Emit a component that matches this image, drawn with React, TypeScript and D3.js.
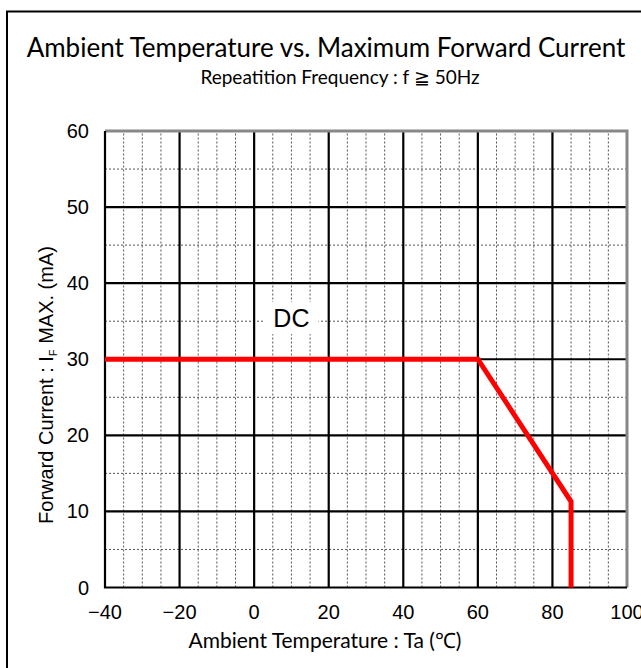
import React, { useRef, useEffect } from 'react';
import * as d3 from 'd3';

// derating curve: ambient temperature (°C) vs max forward current (mA)
const temps = [-40, 60, 85, 85];
const currents = [30, 30, 11.3, 0];

const xTicks = [-40, -20, 0, 20, 40, 60, 80, 100];
const yTicks = [0, 10, 20, 30, 40, 50, 60];
const xMinor = d3.range(-40, 101, 5);
const yMinor = d3.range(0, 61, 5);

const title = 'Ambient Temperature vs. Maximum Forward Current';
const subtitle = 'Repeatition Frequency : f ≧ 50Hz';
const xTitle = 'Ambient Temperature : Ta (℃)';

const W = 641;
const H = 668;
const margin = { top: 131, right: 14, bottom: 80.5, left: 105 };

const App: React.FC = () => {
    const ref = useRef<SVGSVGElement | null>(null);

    useEffect(() => {
        const svg = d3.select(ref.current);
        svg.selectAll('*').remove();

        const x = d3.scaleLinear().domain([-40, 100]).range([margin.left, W - margin.right]);
        const y = d3.scaleLinear().domain([0, 60]).range([H - margin.bottom, margin.top]);

        // outer frame (runs off the right and bottom edges)
        svg.append('path')
            .attr('d', `M7,${H + 5} V11.5 H${W + 5}`)
            .attr('fill', 'none')
            .attr('stroke', '#000')
            .attr('stroke-width', 2);

        svg.append('text')
            .attr('x', 326).attr('y', 57)
            .attr('text-anchor', 'middle')
            .style('font-family', 'Lato, sans-serif')
            .style('font-size', '26px')
            .text(title);

        svg.append('text')
            .attr('x', 340).attr('y', 84)
            .attr('text-anchor', 'middle')
            .style('font-family', 'Lato, sans-serif')
            .style('font-size', '19px')
            .text(subtitle);

        const g = svg.append('g');

        // minor dashed grid
        g.selectAll('line.mx')
            .data(xMinor.filter((d) => d % 20 !== 0))
            .enter().append('line')
            .attr('x1', (d) => x(d)).attr('x2', (d) => x(d))
            .attr('y1', y(0)).attr('y2', y(60))
            .attr('stroke', '#555').attr('stroke-width', 1).attr('stroke-dasharray', '2,2');
        g.selectAll('line.my')
            .data(yMinor.filter((d) => d % 10 !== 0))
            .enter().append('line')
            .attr('y1', (d) => y(d)).attr('y2', (d) => y(d))
            .attr('x1', x(-40)).attr('x2', x(100))
            .attr('stroke', '#555').attr('stroke-width', 1).attr('stroke-dasharray', '2,2');

        // major grid
        g.selectAll('line.Mx')
            .data(xTicks.slice(1, -1))
            .enter().append('line')
            .attr('x1', (d) => x(d)).attr('x2', (d) => x(d))
            .attr('y1', y(0)).attr('y2', y(60))
            .attr('stroke', '#000').attr('stroke-width', 2.2);
        g.selectAll('line.My')
            .data(yTicks.slice(1, -1))
            .enter().append('line')
            .attr('y1', (d) => y(d)).attr('y2', (d) => y(d))
            .attr('x1', x(-40)).attr('x2', x(100))
            .attr('stroke', '#000').attr('stroke-width', 2.2);

        // plot border: grey top/right, black left/bottom
        g.append('path')
            .attr('d', `M${x(-40)},${y(60)} H${x(100)} V${y(0)}`)
            .attr('fill', 'none').attr('stroke', '#888').attr('stroke-width', 3);
        g.append('path')
            .attr('d', `M${x(-40)},${y(60)} V${y(0)} H${x(100)}`)
            .attr('fill', 'none').attr('stroke', '#000').attr('stroke-width', 2.2);

        // DC label with white box
        const dcx = x(10);
        const dcy = y(35.4);
        g.append('rect')
            .attr('x', dcx - 27).attr('y', dcy - 16)
            .attr('width', 54).attr('height', 32)
            .attr('fill', '#fff');
        g.append('text')
            .attr('x', dcx).attr('y', dcy)
            .attr('dy', '0.35em')
            .attr('text-anchor', 'middle')
            .style('font-family', 'Liberation Sans, Arial, sans-serif')
            .style('font-size', '25px')
            .text('DC');

        // curve
        const line = d3.line<number>()
            .x((_, i) => x(temps[i]))
            .y((d) => y(d));
        g.append('path')
            .datum(currents)
            .attr('d', line)
            .attr('fill', 'none')
            .attr('stroke', '#ff0000')
            .attr('stroke-width', 5)
            .attr('stroke-linejoin', 'miter');

        // tick labels
        g.selectAll('text.xt')
            .data(xTicks)
            .enter().append('text')
            .attr('x', (d) => x(d)).attr('y', y(0) + 24)
            .attr('dy', '0.35em')
            .attr('text-anchor', 'middle')
            .style('font-family', 'Liberation Sans, Arial, sans-serif')
            .style('font-size', '20px')
            .text((d) => (d < 0 ? '−' + Math.abs(d) : String(d)));
        g.selectAll('text.yt')
            .data(yTicks)
            .enter().append('text')
            .attr('x', x(-40) - 16).attr('y', (d) => y(d))
            .attr('dy', '0.35em')
            .attr('text-anchor', 'end')
            .style('font-family', 'Liberation Sans, Arial, sans-serif')
            .style('font-size', '20px')
            .text((d) => String(d));

        // axis titles
        svg.append('text')
            .attr('x', 325).attr('y', 648)
            .attr('text-anchor', 'middle')
            .style('font-family', 'Lato, sans-serif')
            .style('font-size', '21px')
            .text(xTitle);

        const yt = svg.append('text')
            .attr('transform', 'translate(53,385) rotate(-90)')
            .attr('text-anchor', 'middle')
            .style('font-family', 'Liberation Sans, Arial, sans-serif')
            .style('font-size', '20px');
        yt.append('tspan').text('Forward Current : I');
        yt.append('tspan').attr('dy', 4).style('font-size', '11px').text('F');
        yt.append('tspan').attr('dy', -4).text(' MAX. (mA)');
    }, []);

    return (
        <svg
            ref={ref}
            width={W}
            height={H}
            style={{ position: 'absolute', left: 0, top: 0, background: '#fff' }}
        />
    );
};

export default App;
